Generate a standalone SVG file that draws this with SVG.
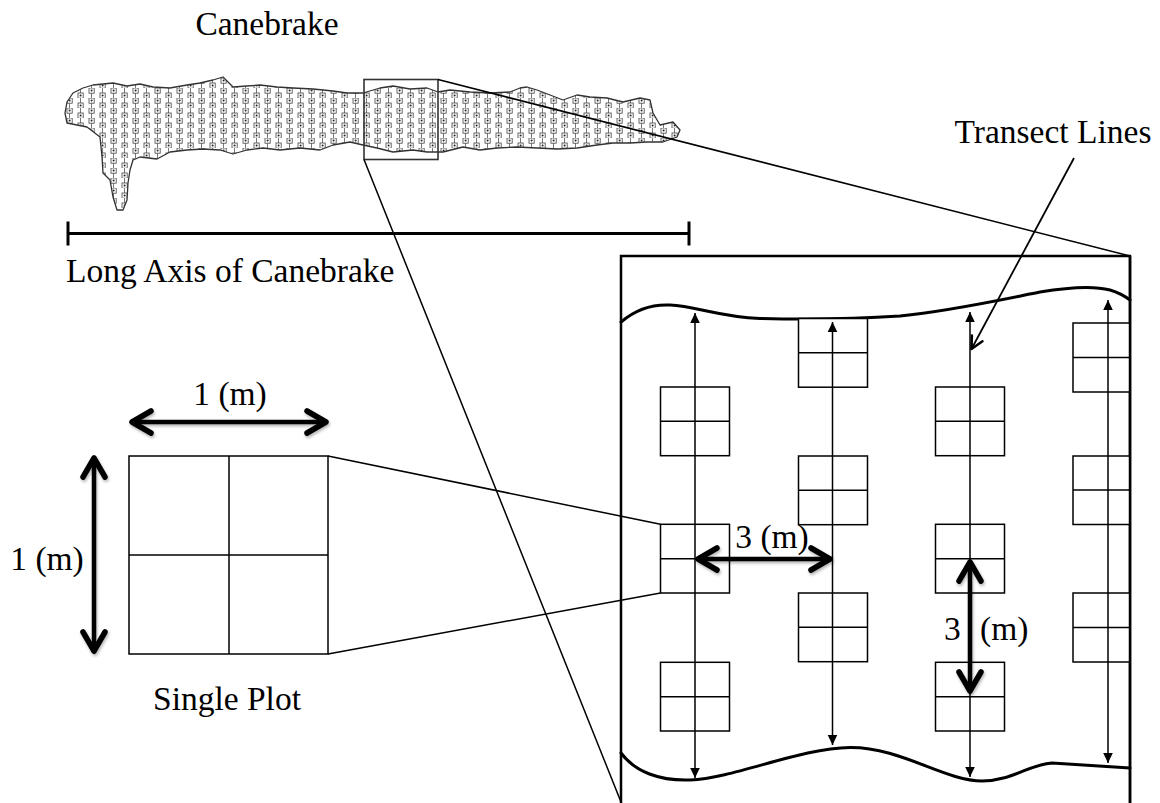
<svg xmlns="http://www.w3.org/2000/svg" width="1160" height="803" viewBox="0 0 1160 803">
<style>
  text { font-family: "Liberation Serif", "Times New Roman", serif; font-size: 33.5px; fill: #000; }
  .thin { stroke: #000; stroke-width: 1.5; fill: none; }
  .edge { stroke: #000; stroke-width: 2.5; fill: none; }
  .wave { stroke: #000; stroke-width: 3; fill: none; stroke-linecap: round; }
  .plot { stroke: #000; stroke-width: 1.5; fill: #fff; }
  .transect { stroke: #000; stroke-width: 1.5; fill: none; marker-start: url(#tri); marker-end: url(#tri); }
  .dim { stroke: #000; stroke-width: 4.5; fill: none; marker-start: url(#chev); marker-end: url(#chev); }
  .zoomline { stroke: #000; stroke-width: 1.5; fill: none; }
</style>
<defs>
  <pattern id="cane" width="22" height="10" patternUnits="userSpaceOnUse" patternTransform="translate(64,78)">
    <rect width="22" height="10" fill="#fff"/>
    <path d="M5.5,0 V10 M16.5,0 V10" stroke="#555" stroke-width="0.8"/>
    <rect x="3" y="0" width="5.2" height="5.2" fill="#fff" stroke="#444" stroke-width="0.8"/>
    <circle cx="5.6" cy="2.6" r="1" fill="#222"/>
    <rect x="14" y="5" width="5.2" height="5.2" fill="#fff" stroke="#444" stroke-width="0.8"/>
    <circle cx="16.6" cy="7.6" r="1" fill="#222"/>
  </pattern>
  <marker id="tri" markerUnits="userSpaceOnUse" viewBox="-12 -6 13 12" markerWidth="13" markerHeight="12" refX="0" refY="0" orient="auto-start-reverse">
    <path d="M0,0 L-10,-4.8 L-10,4.8 Z" fill="#000"/>
  </marker>
  <marker id="chev" markerUnits="userSpaceOnUse" viewBox="-30 -20 40 40" markerWidth="40" markerHeight="40" refX="0" refY="0" orient="auto-start-reverse">
    <path d="M-20,-11 L-1,0 L-20,11" fill="none" stroke="#000" stroke-width="5.5" stroke-linecap="round" stroke-linejoin="round"/>
  </marker>
  <marker id="openhead" markerUnits="userSpaceOnUse" viewBox="-16 -10 20 20" markerWidth="20" markerHeight="20" refX="0" refY="0" orient="auto">
    <path d="M-12,-6 L0,0 L-12,6" fill="none" stroke="#000" stroke-width="2.5" stroke-linecap="round" stroke-linejoin="round"/>
  </marker>
  <filter id="shadow" filterUnits="userSpaceOnUse" x="0" y="0" width="1160" height="803">
    <feDropShadow dx="1" dy="2" stdDeviation="1.5" flood-color="#000" flood-opacity="0.3"/>
  </filter>
  <g id="sq">
    <rect x="0" y="0" width="69" height="68.7" class="plot"/>
    <line x1="0" y1="34.35" x2="69" y2="34.35" class="thin"/>
  </g>
</defs>

<rect width="1160" height="803" fill="#fff"/>

<!-- Canebrake map -->
<g id="canebrake">
  <path d="M67,102 L73,93 L83,88 L93,85 L113,83 L127,86 L140,84 L153,87 L170,88 L187,85 L200,83 L213,80 L223,77 L233,87 L247,86 L260,85 L277,87 L293,88 L313,89 L333,91 L347,93 L363,93 L380,88 L393,86 L410,89 L427,88 L438,92 L450,90 L470,92 L490,93 L510,92 L520,88 L527,87 L537,90 L550,95 L563,100 L577,95 L590,97 L607,98 L623,102 L640,98 L650,100 L653,113 L660,125 L673,122 L680,130 L677,137 L663,142 L647,142 L630,143 L613,143 L597,145 L577,148 L557,149 L537,148 L517,147 L497,148 L480,150 L463,147 L443,152 L427,152 L413,150 L393,152 L377,148 L363,145 L350,142 L333,145 L320,150 L300,148 L280,150 L263,148 L247,150 L233,154 L220,150 L203,149 L187,150 L170,152 L157,159 L140,157 L133,160 L130,170 L128,183 L127,200 L123,210 L117,210 L113,197 L110,180 L103,173 L102,157 L100,137 L87,127 L67,123 L65,113 Z" fill="url(#cane)" stroke="#333" stroke-width="1.3" stroke-linejoin="round"/>
  <text x="267" y="35" text-anchor="middle">Canebrake</text>
</g>

<g id="zoom-box">
  <rect x="364" y="79.5" width="74" height="80" fill="none" stroke="#333" stroke-width="1.6"/>
</g>

<g id="long-axis">
  <line x1="68" y1="233.5" x2="689" y2="233.5" stroke="#000" stroke-width="3"/>
  <line x1="68" y1="221.5" x2="68" y2="245.5" stroke="#000" stroke-width="3"/>
  <line x1="689" y1="221.5" x2="689" y2="245.5" stroke="#000" stroke-width="3"/>
  <text x="66" y="282">Long Axis of Canebrake</text>
</g>

<g id="single-plot">
  <rect x="129" y="456" width="199" height="198" class="thin"/>
  <line x1="229" y1="456" x2="229" y2="654" class="thin"/>
  <line x1="129" y1="555" x2="328" y2="555" class="thin"/>
  <text x="227" y="710" text-anchor="middle">Single Plot</text>
</g>

<!-- Zoomed panel -->
<g id="panel">
  <path d="M621,805 V256 H1130 V805" class="edge"/>
  <path d="M621,322 C635,310 650,304 670,305 C695,306 720,317 760,318.5 C820,320 870,318 900,316 C950,311 1000,300 1040,292 C1070,287 1095,286 1110,290 C1120,293 1126,297 1130,300" class="wave"/>
  <path d="M621,753 C635,772 660,781 690,780 C735,778 800,748 850,747.5 C900,747 945,781 982,781 C1012,781 1030,764 1052,763 L1130,768" class="wave"/>
</g>

<g id="plots">
  <use href="#sq" x="660.5" y="387"/>
  <use href="#sq" x="660.5" y="524.3"/>
  <use href="#sq" x="660.5" y="662.3"/>
  <use href="#sq" x="798.5" y="318.5"/>
  <use href="#sq" x="798.5" y="456"/>
  <use href="#sq" x="798.5" y="593"/>
  <use href="#sq" x="935.5" y="387"/>
  <use href="#sq" x="935.5" y="524.3"/>
  <use href="#sq" x="935.5" y="662.3"/>
  <g id="plots-edge">
    <rect x="1073" y="323" width="57" height="69" class="plot"/>
    <line x1="1073" y1="357.5" x2="1130" y2="357.5" class="thin"/>
    <rect x="1073" y="456" width="57" height="68.5" class="plot"/>
    <line x1="1073" y1="490" x2="1130" y2="490" class="thin"/>
    <rect x="1073" y="593" width="57" height="69" class="plot"/>
    <line x1="1073" y1="627.5" x2="1130" y2="627.5" class="thin"/>
    <line x1="1130" y1="256" x2="1130" y2="805" class="edge"/>
  </g>
</g>

<g id="transects">
  <line x1="695" y1="313" x2="695" y2="778" class="transect"/>
  <line x1="832.5" y1="322" x2="832.5" y2="745" class="transect"/>
  <line x1="970" y1="312" x2="970" y2="777" class="transect"/>
  <line x1="1108" y1="300" x2="1108" y2="763" class="transect"/>
</g>

<g id="connectors">
  <line x1="438" y1="79.5" x2="1130" y2="256" class="zoomline"/>
  <line x1="364" y1="159.5" x2="623" y2="807" class="zoomline"/>
  <line x1="328" y1="456" x2="660.5" y2="524.3" class="zoomline"/>
  <line x1="328" y1="654" x2="660.5" y2="593" class="zoomline"/>
  <line x1="1074" y1="158" x2="971.5" y2="349" stroke="#000" stroke-width="1.8" marker-end="url(#openhead)"/>
</g>

<g id="dimensions" filter="url(#shadow)">
  <line x1="131" y1="422" x2="327" y2="422" class="dim"/>
  <line x1="94" y1="457" x2="94" y2="652" class="dim"/>
  <line x1="697" y1="559" x2="831" y2="559" class="dim"/>
  <line x1="970" y1="561" x2="970" y2="692" class="dim"/>
</g>

<g id="labels">
  <text x="230" y="405" text-anchor="middle">1 (m)</text>
  <text x="47" y="570" text-anchor="middle">1 (m)</text>
  <text x="772" y="548" text-anchor="middle">3 (m)</text>
  <text y="640"><tspan x="944">3</tspan><tspan x="980">(m)</tspan></text>
  <text x="1053" y="143" text-anchor="middle">Transect Lines</text>
</g>
</svg>
